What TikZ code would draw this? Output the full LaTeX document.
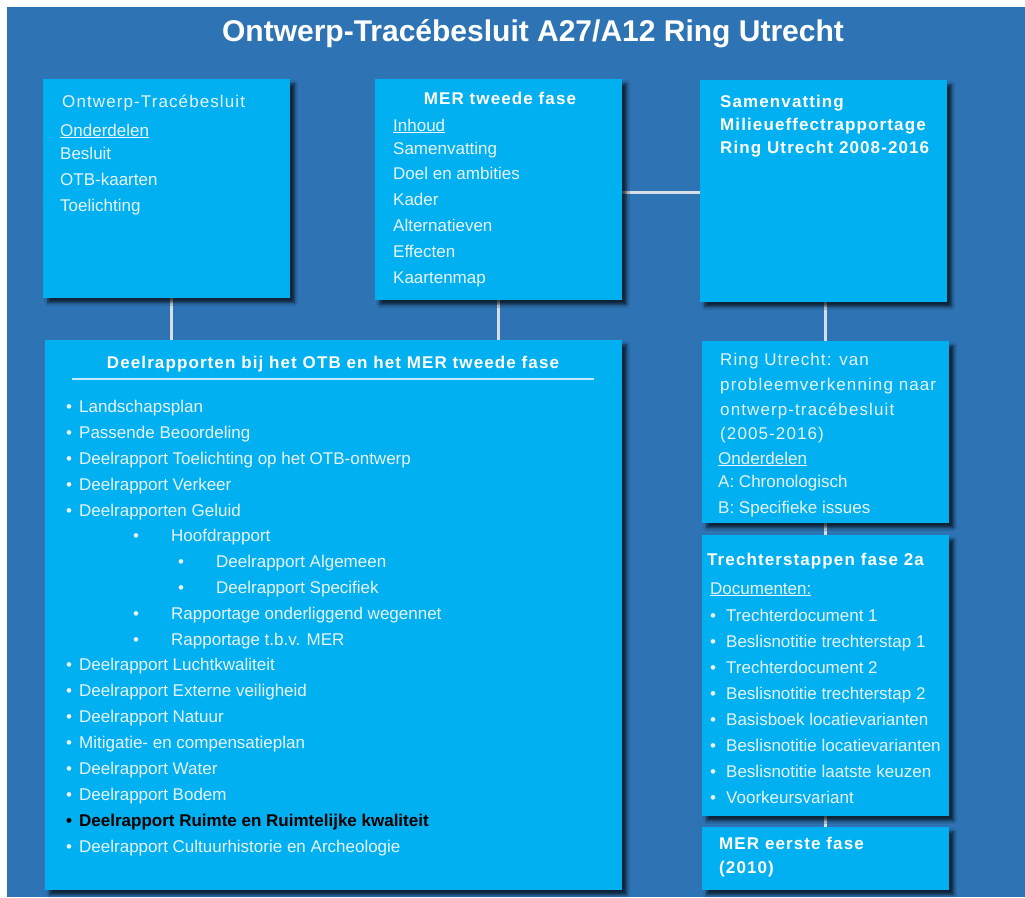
\documentclass[tikz,border=0pt]{standalone}
\usepackage{fontspec}
\setmainfont{Liberation Sans}
\newfontfamily\spaced[LetterSpace=6.5]{Liberation Sans}
\usetikzlibrary{shadows.blur}
\definecolor{pageblue}{RGB}{46,116,181}
\definecolor{boxblue}{RGB}{0,176,240}
\definecolor{txtc}{RGB}{232,245,252}
\definecolor{linec}{RGB}{215,222,230}
\definecolor{rulec}{RGB}{190,236,252}
\pgfdeclarelayer{bg}
\pgfsetlayers{bg,main}
\begin{document}
\begin{tikzpicture}[x=1pt, y=-1pt,
  box/.style={rectangle, fill=boxblue, anchor=north west, inner sep=0pt,
    blur shadow={shadow xshift=4.5pt, shadow yshift=-4.5pt, shadow blur radius=3pt, shadow opacity=70}},
  txt/.style={text=txtc, inner sep=0pt, anchor=base west, font=\fontsize{17}{20}\selectfont},
  spc/.style={txt, font=\spaced\fontsize{17}{20}\selectfont},
  head/.style={txt, text=white, font=\spaced\bfseries\fontsize{17}{20}\selectfont},
  conn/.style={draw=linec, line width=2.5pt}]
% boxes
\node[box, minimum width=247pt, minimum height=219pt] (otb) at (43,79) {};
\node[box, minimum width=247pt, minimum height=221pt] (mer) at (375,79) {};
\node[box, minimum width=247pt, minimum height=222pt] (sam) at (700,80) {};
\node[box, minimum width=577pt, minimum height=550pt] (deel) at (45,340) {};
\node[box, minimum width=247pt, minimum height=182pt] (ring) at (702,341) {};
\node[box, minimum width=247pt, minimum height=281pt] (trech) at (702,535) {};
\node[box, minimum width=247pt, minimum height=63pt] (mer1) at (702,827) {};
% title
\node[txt, text=white, anchor=base, font=\bfseries\fontsize{30}{36}\selectfont] (title) at (533,41) {Ontwerp-Tracébesluit A27/A12 Ring Utrecht};
% Ontwerp-Tracebesluit
\node[spc] (otbhead) at (62,107) {Ontwerp-Tracébesluit};
\node[txt] (o0) at (60,136) {\underline{Onderdelen}};
\node[txt] (o1) at (60,159) {Besluit};
\node[txt] (o2) at (60,185) {OTB-kaarten};
\node[txt] (o3) at (60,211) {Toelichting};
% MER tweede fase
\node[head, anchor=base] (merhead) at (500,104) {MER tweede fase};
\node[txt] (m0) at (393,131) {\underline{Inhoud}};
\node[txt] (m1) at (393,154) {Samenvatting};
\node[txt] (m2) at (393,179) {Doel en ambities};
\node[txt] (m3) at (393,205) {Kader};
\node[txt] (m4) at (393,231) {Alternatieven};
\node[txt] (m5) at (393,257) {Effecten};
\node[txt] (m6) at (393,283) {Kaartenmap};
% Samenvatting
\node[head] (s1) at (720,107) {Samenvatting};
\node[head] (s2) at (720,130) {Milieueffectrapportage};
\node[head] (s3) at (720,153) {Ring Utrecht 2008-2016};
% Deelrapporten
\node[head, anchor=base] (deelhead) at (333,368) {Deelrapporten bij het OTB en het MER tweede fase};
\draw[draw=rulec, line width=2pt] (72,379) -- (594,379);
\node[txt] (d1) at (66,412) {\makebox[13pt][l]{•}Landschapsplan};
\node[txt] (d2) at (66,438) {\makebox[13pt][l]{•}Passende Beoordeling};
\node[txt] (d3) at (66,464) {\makebox[13pt][l]{•}Deelrapport Toelichting op het OTB-ontwerp};
\node[txt] (d4) at (66,490) {\makebox[13pt][l]{•}Deelrapport Verkeer};
\node[txt] (d5) at (66,516) {\makebox[13pt][l]{•}Deelrapporten Geluid};
\node[txt] (d6) at (133,541) {\makebox[38pt][l]{•}Hoofdrapport};
\node[txt] (d7) at (178,567) {\makebox[38pt][l]{•}Deelrapport Algemeen};
\node[txt] (d8) at (178,593) {\makebox[38pt][l]{•}Deelrapport Specifiek};
\node[txt] (d9) at (133,619) {\makebox[38pt][l]{•}Rapportage onderliggend wegennet};
\node[txt] (d10) at (133,645) {\makebox[38pt][l]{•}Rapportage t.b.v. MER};
\node[txt] (d11) at (66,670) {\makebox[13pt][l]{•}Deelrapport Luchtkwaliteit};
\node[txt] (d12) at (66,696) {\makebox[13pt][l]{•}Deelrapport Externe veiligheid};
\node[txt] (d13) at (66,722) {\makebox[13pt][l]{•}Deelrapport Natuur};
\node[txt] (d14) at (66,748) {\makebox[13pt][l]{•}Mitigatie- en compensatieplan};
\node[txt] (d15) at (66,774) {\makebox[13pt][l]{•}Deelrapport Water};
\node[txt] (d16) at (66,800) {\makebox[13pt][l]{•}Deelrapport Bodem};
\node[txt, text=black, font=\bfseries\fontsize{17}{20}\selectfont] (d17) at (66,826) {\makebox[13pt][l]{•}Deelrapport Ruimte en Ruimtelijke kwaliteit};
\node[txt] (d18) at (66,852) {\makebox[13pt][l]{•}Deelrapport Cultuurhistorie en Archeologie};
% Ring Utrecht
\node[spc] (r1) at (720,365) {Ring Utrecht: van};
\node[spc] (r2) at (720,390) {probleemverkenning naar};
\node[spc] (r3) at (720,415) {ontwerp-tracébesluit};
\node[spc] (r4) at (720,439) {(2005-2016)};
\node[txt] (r5) at (718,464) {\underline{Onderdelen}};
\node[txt] (r6) at (718,487) {A: Chronologisch};
\node[txt] (r7) at (718,513) {B: Specifieke issues};
% Trechterstappen
\node[head] (trhead) at (707,565) {Trechterstappen fase 2a};
\node[txt] (t0) at (710,594) {\underline{Documenten:}};
\node[txt] (t1) at (710,621) {\makebox[16pt][l]{•}Trechterdocument 1};
\node[txt] (t2) at (710,647) {\makebox[16pt][l]{•}Beslisnotitie trechterstap 1};
\node[txt] (t3) at (710,673) {\makebox[16pt][l]{•}Trechterdocument 2};
\node[txt] (t4) at (710,699) {\makebox[16pt][l]{•}Beslisnotitie trechterstap 2};
\node[txt] (t5) at (710,725) {\makebox[16pt][l]{•}Basisboek locatievarianten};
\node[txt] (t6) at (710,751) {\makebox[16pt][l]{•}Beslisnotitie locatievarianten};
\node[txt] (t7) at (710,777) {\makebox[16pt][l]{•}Beslisnotitie laatste keuzen};
\node[txt] (t8) at (710,803) {\makebox[16pt][l]{•}Voorkeursvariant};
% MER eerste fase
\node[head] (e1) at (719,849) {MER eerste fase};
\node[head] (e2) at (719,873) {(2010)};
% background and connectors
\begin{pgfonlayer}{bg}
\fill[white] (0,0) rectangle (1025,897);
\fill[pageblue] (7,7) rectangle (1025,897);
\path[conn] ([xshift=5pt]otb.south) -- ([xshift=5pt]otb.south |- deel.north);
\path[conn] (mer.south) -- (mer.south |- deel.north);
\path[conn] ([yshift=-3pt]mer.east) -- ([yshift=-3pt]mer.east -| sam.west);
\path[conn] ([xshift=2pt]sam.south) -- ([xshift=2pt]sam.south |- ring.north);
\path[conn] (ring.south) -- (trech.north);
\path[conn] (trech.south) -- (mer1.north);
\end{pgfonlayer}
\end{tikzpicture}
\end{document}
